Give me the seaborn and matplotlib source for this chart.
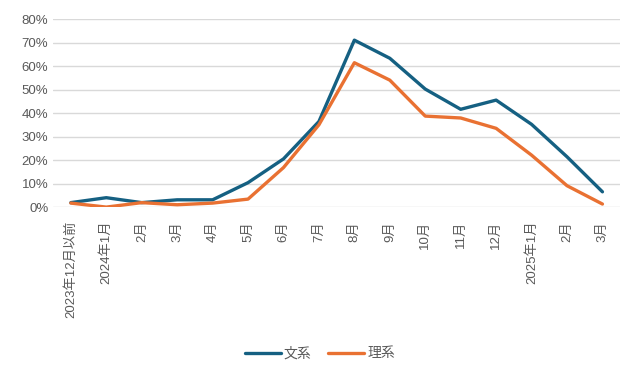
import matplotlib.pyplot as plt
import matplotlib.ticker as mtick
import seaborn as sns
import pandas as pd

months = ['2023年12月以前', '2024年1月', '2月', '3月', '4月', '5月', '6月', '7月',
          '8月', '9月', '10月', '11月', '12月', '2025年1月', '2月', '3月']
bunkei = [0.019, 0.040, 0.019, 0.031, 0.031, 0.104, 0.205, 0.364,
          0.710, 0.633, 0.502, 0.416, 0.455, 0.352, 0.214, 0.065]
rikei = [0.017, 0.000, 0.019, 0.010, 0.017, 0.034, 0.168, 0.350,
         0.614, 0.540, 0.387, 0.379, 0.335, 0.221, 0.091, 0.013]
series = ['文系', '理系']

df = pd.DataFrame({
    'idx': list(range(len(months))) * 2,
    'value': bunkei + rikei,
    'series': [series[0]] * len(months) + [series[1]] * len(months),
})

sns.set_style('white')
plt.rcParams['font.family'] = ['Liberation Sans', 'Noto Sans CJK JP', 'DejaVu Sans']

fig = plt.figure(figsize=(6.4, 3.8), dpi=100)
ax = fig.add_axes([0.083, 0.455, 0.886, 0.495])

sns.lineplot(data=df, x='idx', y='value', hue='series',
             palette=['#156082', '#E97132'], linewidth=2.4, ax=ax,
             legend=True)

ax.set_xlim(-0.5, len(months) - 0.5)
ax.set_ylim(0, 0.8)
ax.set_yticks([i / 10 for i in range(9)])
ax.yaxis.set_major_formatter(mtick.PercentFormatter(1.0, decimals=0))
ax.set_xticks(range(len(months)))
ax.set_xticklabels(months, rotation=90)
ax.tick_params(axis='both', length=0, labelsize=9.5, colors='#595959')
ax.tick_params(axis='x', pad=10)
ax.grid(axis='y', color='#d9d9d9', linewidth=1)
ax.set_axisbelow(True)
for s in ax.spines.values():
    s.set_visible(False)
ax.set_xlabel('')
ax.set_ylabel('')

handles, labels = ax.get_legend_handles_labels()
ax.legend(handles, labels, loc='center', bbox_to_anchor=(0.5, 0.07),
          bbox_transform=fig.transFigure, ncol=2, frameon=False,
          fontsize=10, handlelength=2.6, columnspacing=1.2, handletextpad=0.2,
          labelcolor='#595959')

fig.savefig('out.png', dpi=100)
